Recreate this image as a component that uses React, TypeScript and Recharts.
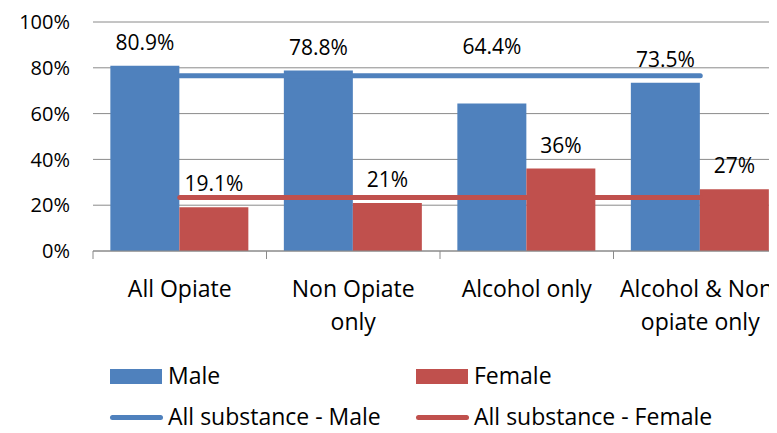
import React from 'react';
import { ComposedChart, Bar, Line, XAxis, YAxis, CartesianGrid, LabelList } from 'recharts';

const categories = ['All Opiate', 'Non Opiate\nonly', 'Alcohol only', 'Alcohol & Non-\nopiate only'];
const male = [80.9, 78.8, 64.4, 73.5];
const female = [19.1, 21, 36, 27];
const allMale = [76.5, 76.5, 76.5, 76.5];
const allFemale = [23.4, 23.4, 23.4, 23.4];
const yTicks = [0, 20, 40, 60, 80, 100];

const BLUE = '#4F81BD';
const RED = '#C0504D';
const GRID = '#8a8a8a';
const FONT = '"Open Sans", sans-serif';

const data = categories.map((name, i) => ({
  name,
  male: male[i],
  female: female[i],
  allMale: allMale[i],
  allFemale: allFemale[i],
}));

const legendItems = [
  { name: 'Male', color: BLUE, kind: 'bar' },
  { name: 'Female', color: RED, kind: 'bar' },
  { name: 'All substance - Male', color: BLUE, kind: 'line' },
  { name: 'All substance - Female', color: RED, kind: 'line' },
];

function CategoryTick(props: any) {
  const { x, y, payload } = props;
  const half = payload.offset || 0;
  const lines = String(payload.value).split('\n');
  return (
    <g>
      <line x1={x - half} x2={x - half} y1={y} y2={y + 8} stroke={GRID} />
      {lines.map((t, i) => (
        <text key={i} x={x} y={y + 37 + i * 33} textAnchor="middle" dominantBaseline="central"
          fontSize={23} fontFamily={FONT} fill="#000">
          {t}
        </text>
      ))}
    </g>
  );
}

// extra lift for labels that were moved off the bar top in the original
const maleLift = [0, 0, 34, 0];

const barLabel = (lift: number[]) => (props: any) => {
  const { x, y, width, value, index } = props;
  return (
    <text x={x + width / 2} y={y - 24 - (lift[index] || 0)} textAnchor="middle" dominantBaseline="central"
      fontSize={21} fontFamily={FONT} fill="#000">
      {value}%
    </text>
  );
};

export default function App() {
  return (
    <div style={{ margin: -8, width: 777, height: 433, overflow: 'hidden', position: 'relative', background: '#fff' }}>
      <ComposedChart width={787} height={433} data={data} barCategoryGap="10%" barGap={0}
        margin={{ top: 22, right: 0, bottom: 0, left: 0 }}>
        <CartesianGrid vertical={false} stroke={GRID} />
        <XAxis dataKey="name" height={182} axisLine={{ stroke: GRID }} tickLine={false} tickSize={0}
          tickMargin={0} interval={0} tick={<CategoryTick />} />
        <YAxis domain={[0, 100]} ticks={yTicks} width={93} axisLine={false} tickLine={false} tickSize={0}
          tickMargin={23} tickFormatter={(v) => `${v}%`}
          tick={{ fontSize: 20, fontFamily: FONT, fill: '#000' }} />
        <Bar dataKey="male" fill={BLUE} isAnimationActive={false}>
          <LabelList dataKey="male" content={barLabel(maleLift)} />
        </Bar>
        <Bar dataKey="female" fill={RED} isAnimationActive={false}>
          <LabelList dataKey="female" content={barLabel([])} />
        </Bar>
        <Line type="linear" dataKey="allMale" stroke={BLUE} strokeWidth={5} strokeLinecap="round" dot={false}
          activeDot={false} isAnimationActive={false} />
        <Line type="linear" dataKey="allFemale" stroke={RED} strokeWidth={5} strokeLinecap="round" dot={false}
          activeDot={false} isAnimationActive={false} />
      </ComposedChart>
      {legendItems.map((item, i) => {
        const left = i % 2 === 0 ? 110 : 416;
        const cy = i < 2 ? 375 : 416;
        return (
          <div key={item.name} style={{ position: 'absolute', left, top: cy - 16, height: 32, display: 'flex', alignItems: 'center', fontFamily: FONT, fontSize: 23, color: '#000', whiteSpace: 'nowrap' }}>
            {item.kind === 'bar' ? (
              <span style={{ display: 'inline-block', width: 52, height: 15, background: item.color, marginRight: 6, marginTop: 2 }} />
            ) : (
              <span style={{ display: 'inline-block', width: 53, height: 5, borderRadius: 3, background: item.color, marginRight: 5, marginTop: 3 }} />
            )}
            <span>{item.name}</span>
          </div>
        );
      })}
    </div>
  );
}
